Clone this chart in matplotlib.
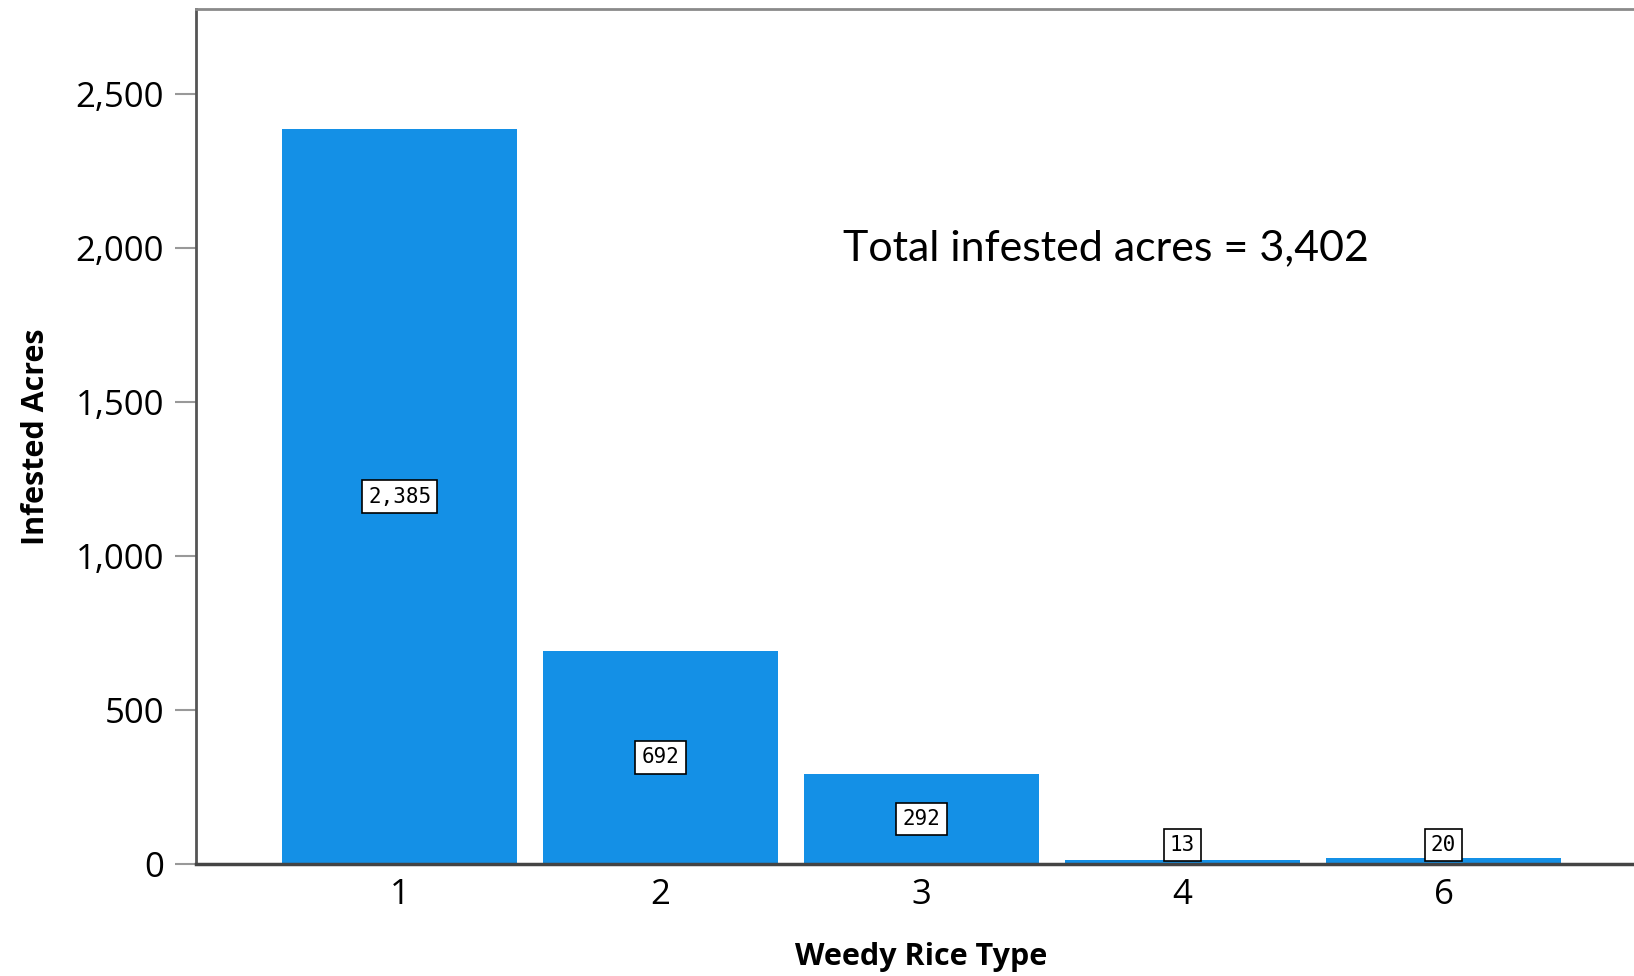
import matplotlib.pyplot as plt
from matplotlib.ticker import FuncFormatter

types = ["1", "2", "3", "4", "6"]
acres = [2385, 692, 292, 13, 20]
total_text = "Total infested acres = 3,402"

BAR_COLOR = "#1490e6"

fig = plt.figure(figsize=(16.34, 9.76), dpi=100)
ax = fig.add_axes([0.12, 0.1148, 0.888, 0.876])

x = list(range(len(types)))
ax.bar(x, acres, width=0.9, color=BAR_COLOR, zorder=2)

ax.set_xlim(-0.78, 4.78)
ax.set_ylim(0, 2775)
ax.set_yticks([0, 500, 1000, 1500, 2000, 2500])
ax.yaxis.set_major_formatter(FuncFormatter(lambda v, p: f"{int(v):,}"))
ax.set_xticks(x)
ax.set_xticklabels(types)

ax.tick_params(axis="y", length=15, width=1.5, color="#999999", pad=8,
               labelsize=25, labelfontfamily="Open Sans")
ax.tick_params(axis="x", length=0, pad=10, labelsize=25, labelfontfamily="Open Sans")

ax.spines["right"].set_visible(False)
ax.spines["top"].set_color("#8a8a8a")
ax.spines["top"].set_linewidth(2)
ax.spines["left"].set_color("#555555")
ax.spines["left"].set_linewidth(2)
ax.spines["bottom"].set_color("#444444")
ax.spines["bottom"].set_linewidth(2.5)
ax.spines["bottom"].set_zorder(3)

# value labels, kept above the baseline for the thin bars
for xi, v in zip(x, acres):
    y = max(v / 2, 62)
    ax.text(xi, y, f"{v:,}", ha="center", va="center", fontsize=15,
            family="DejaVu Sans Mono", zorder=4,
            bbox=dict(boxstyle="square,pad=0.3", fc="white", ec="black", lw=1.2))

ax.set_ylabel("Infested Acres", fontsize=22, fontweight="bold",
              family="Open Sans", labelpad=18)
ax.set_xlabel("Weedy Rice Type", fontsize=22, fontweight="bold",
              family="Open Sans", labelpad=22)

ax.text(0.446, 0.72, total_text, transform=ax.transAxes, fontsize=31,
        family="Lato", ha="left", va="center")

fig.savefig("out.png", dpi=100)
